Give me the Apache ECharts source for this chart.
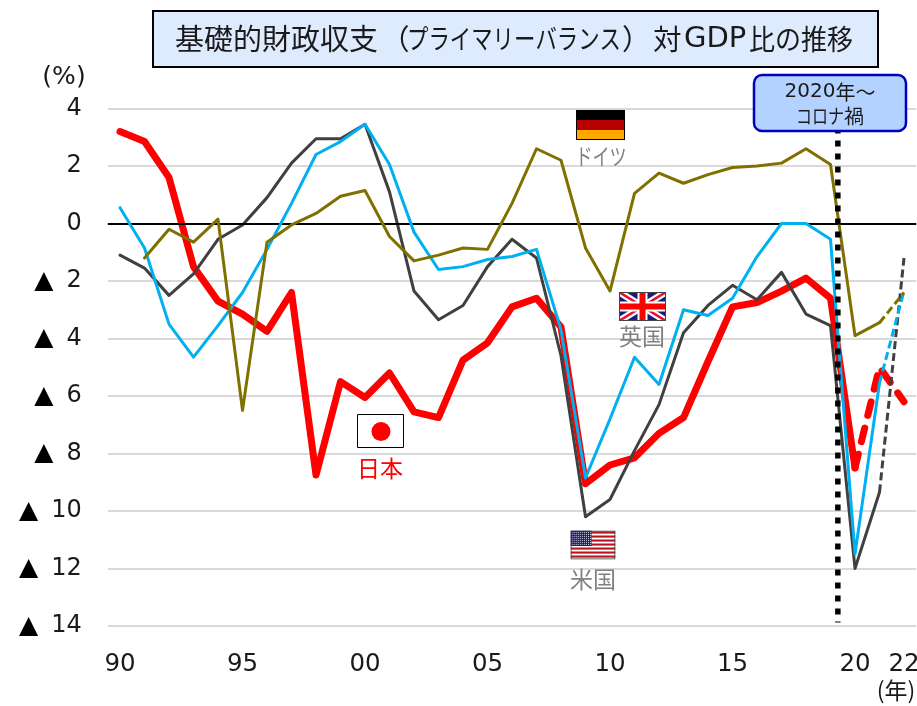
<!DOCTYPE html>
<html><head><meta charset="utf-8">
<style>html,body{margin:0;padding:0;background:#fff}#c{width:917px;height:706px}</style>
<script src="https://cdn.jsdelivr.net/npm/echarts@6/dist/echarts.min.js"></script>
</head><body><div id="c"></div>
<script>
const categories = ['90','91','92','93','94','95','96','97','98','99','00','01','02','03','04','05','06','07','08','09','10','11','12','13','14','15','16','17','18','19','20','21','22'];
const shownLabels = ['90','95','00','05','10','15','20','22'];
const yTicks = [4,2,0,-2,-4,-6,-8,-10,-12,-14];
const japanActual = [3.2,2.85,1.6,-1.5,-2.7,-3.15,-3.75,-2.4,-8.75,-5.5,-6.05,-5.2,-6.55,-6.75,-4.75,-4.15,-2.9,-2.6,-3.6,-9.05,-8.4,-8.15,-7.3,-6.75,-4.8,-2.9,-2.75,-2.35,-1.9,-2.6,-8.5];
const japanEstimate = [-8.5,-5.0,-6.2];
const usActual = [-1.1,-1.55,-2.5,-1.75,-0.55,-0.05,0.9,2.1,2.95,2.95,3.45,1.1,-2.35,-3.35,-2.85,-1.5,-0.55,-1.2,-4.6,-10.2,-9.6,-7.9,-6.3,-3.8,-2.85,-2.15,-2.65,-1.7,-3.15,-3.55,-12.0,-9.35];
const usEstimate = [-9.35,-1.2];
const ukActual = [0.55,-0.85,-3.5,-4.65,-3.55,-2.4,-0.9,0.7,2.4,2.85,3.45,2.05,-0.3,-1.6,-1.5,-1.25,-1.15,-0.9,-3.7,-8.85,-6.8,-4.65,-5.6,-3.0,-3.2,-2.6,-1.15,0,0,-0.55,-11.5,-5.55];
const ukEstimate = [-5.55,-2.35];
const deActual = [null,-1.2,-0.2,-0.65,0.15,-6.5,-0.65,-0.05,0.35,0.95,1.15,-0.45,-1.3,-1.1,-0.85,-0.9,0.7,2.6,2.2,-0.85,-2.35,1.05,1.75,1.4,1.7,1.95,2.0,2.1,2.6,2.05,-3.9,-3.45];
const deEstimate = [-3.45,-2.4];
const covidMarker = [[2019.3,3.34],[2019.3,-13.88]];

const JP='"Noto Sans CJK JP","DejaVu Sans",sans-serif';
const NUM='"DejaVu Sans",sans-serif';
const pad = (arr)=>Array(categories.length-arr.length).fill(null).concat(arr);
const tail = (arr)=>arr.concat(Array(categories.length-arr.length).fill(null));
const line = (name,data,color,width,dash,extra)=>Object.assign({
  type:'line',name,data,symbol:'none',connectNulls:false,silent:true,
  lineStyle:{color,width,type:dash||'solid',cap:dash?'butt':'round',join:'round'},
  animation:false},extra||{});
const svg = s=>'data:image/svg+xml;charset=utf-8,'+encodeURIComponent(s);
const txt = (text,x,y,font,fill,sx,align)=>({type:'text',z:21,x,y,scaleX:sx||1,style:{text,font,fill:fill||'#1a1a1a',textAlign:align||'left',textVerticalAlign:'middle'}});

const deFlag = svg('<svg xmlns="http://www.w3.org/2000/svg" width="49" height="30"><rect width="49" height="10" fill="#000"/><rect y="10" width="49" height="10" fill="#b80000"/><rect y="20" width="49" height="10" fill="#ffa800"/><rect x=".5" y=".5" width="48" height="29" fill="none" stroke="#000"/></svg>');
const ukFlag = svg('<svg xmlns="http://www.w3.org/2000/svg" width="47" height="29" viewBox="0 0 47 29"><rect width="47" height="29" fill="#1a1a7a"/><path d="M0 0L47 29M47 0L0 29" stroke="#fff" stroke-width="7"/><path d="M0 0L47 29M47 0L0 29" stroke="#e8102a" stroke-width="2.5"/><path d="M23.5 0V29M0 14.5H47" stroke="#fff" stroke-width="10"/><path d="M23.5 0V29M0 14.5H47" stroke="#f00" stroke-width="6"/><rect x=".5" y=".5" width="46" height="28" fill="none" stroke="#444"/></svg>');
let stripes=''; for(let i=0;i<7;i++){stripes+='<rect y="'+(1+i*4)+'" width="45" height="2.1" fill="#b81420"/>';}
let stars=''; for(let r=0;r<7;r++){for(let c=0;c<10;c++){stars+='<circle cx="'+(1.6+c*2.05)+'" cy="'+(1.8+r*2)+'" r=".55" fill="#fff"/>';}}
const usFlag = svg('<svg xmlns="http://www.w3.org/2000/svg" width="45" height="29" viewBox="0 0 45 29"><rect width="45" height="29" fill="#fff"/>'+stripes+'<rect width="21" height="15.5" fill="#1c1c6e"/>'+stars+'<rect x=".5" y=".5" width="44" height="28" fill="none" stroke="#333"/></svg>');

const chart = echarts.init(document.getElementById('c'),null,{renderer:'canvas'});
chart.setOption({
  animation:false,
  backgroundColor:'#fff',
  grid:{left:107.75,right:0.75,top:108.5,bottom:80,containLabel:false,outerBoundsMode:'none'},
  xAxis:[{
    type:'category',data:categories,boundaryGap:true,position:'bottom',
    axisLine:{show:false},axisTick:{show:false},splitLine:{show:false},
    axisLabel:{interval:(i,v)=>shownLabels.includes(v),margin:26,fontSize:24.5,color:'#1a1a1a',fontFamily:NUM,hideOverlap:false}
  },{
    type:'value',min:1989.5,max:2022.5,show:false
  }],
  yAxis:{
    type:'value',min:-14,max:4,interval:2,
    axisLine:{show:false},axisTick:{show:false},
    splitLine:{show:true,lineStyle:{color:'#d9d9d9',width:2}},
    axisLabel:{margin:26,fontSize:24,color:'#1a1a1a',fontFamily:NUM,
      formatter:v=>yTicks.includes(v)?(v<0?'{t|▲}{n|'+(-v)+'}':'{n|'+v+'}'):'',
      rich:{t:{fontSize:25,fontFamily:NUM,color:'#000',padding:[0,13,0,0]},n:{fontSize:24,fontFamily:NUM,color:'#1a1a1a'}}}
  },
  series:[
    line('日本',tail(japanActual),'#ff0000',7,null,{
      z:3,
      markLine:{silent:true,symbol:'none',animation:false,label:{show:false},
        lineStyle:{color:'#000',width:2,type:'solid'},data:[{yAxis:0}]}
    }),
    line('日本(見通し)',pad(japanEstimate),'#ff0000',7,[14,13],{z:3,lineStyle:{color:'#ff0000',width:7,type:[14,13],cap:'round'}}),
    line('米国',tail(usActual),'#404040',3,null,{z:4}),
    line('米国(見通し)',pad(usEstimate),'#404040',3,[8,4],{z:4}),
    line('英国',tail(ukActual),'#00b0f0',3,null,{z:5}),
    line('英国(見通し)',pad(ukEstimate),'#00b0f0',3,[8,4],{z:5}),
    line('ドイツ',tail(deActual),'#7f7000',3,null,{z:6}),
    line('ドイツ(見通し)',pad(deEstimate),'#7f7000',3,[8,4],{z:6}),
    {type:'line',name:'2020年~コロナ禍',xAxisIndex:1,data:covidMarker,symbol:'none',silent:true,z:7,
      lineStyle:{color:'#000',width:5.5,type:[6,7],cap:'butt'},animation:false}
  ],
  graphic:[
    {type:'rect',z:20,shape:{x:153,y:11,width:725,height:56},style:{fill:'#deebff',stroke:'#000',lineWidth:2}},
    txt('基礎的財政収支',175,39,'29px '+JP),
    txt('（',381,39,'28.5px '+JP),
    txt('プライマリーバランス',407,39,'27px '+JP,null,214/270),
    txt('）',622,39,'28.5px '+JP),
    txt('対',653,39,'28.5px '+JP),
    txt('GDP',684,39,'29px '+NUM),
    txt('比の推移',749,39,'28px '+JP,null,0.93),
    txt('(%)',64,77,'25px '+NUM,null,1,'center'),
    txt('(年)',896,690,'23px '+JP,null,1,'center'),
    {type:'rect',z:20,shape:{x:754,y:75,width:152,height:56,r:8},style:{fill:'#b4d2ff',stroke:'#0000c0',lineWidth:2.5}},
    {type:'text',z:21,x:830,y:92,style:{text:'{n|2020}{j|年～}',textAlign:'center',textVerticalAlign:'middle',
      rich:{n:{font:'20px '+NUM,fill:'#1a1a1a'},j:{font:'20px '+JP,fill:'#1a1a1a'}}}},
    txt('コロナ',796,116,'20px '+JP,null,0.8),
    txt('禍',844,116,'20px '+JP),
    {type:'image',z:20,style:{image:deFlag,x:576,y:110,width:49,height:30}},
    txt('ドイツ',575.5,156,'23px '+JP,'#808080',0.74),
    {type:'image',z:20,style:{image:ukFlag,x:619,y:292,width:47,height:29}},
    txt('英国',642,336,'23px '+JP,'#808080',1,'center'),
    {type:'rect',z:20,shape:{x:357.5,y:414.5,width:46,height:33},style:{fill:'#fff',stroke:'#000',lineWidth:1}},
    {type:'circle',z:21,shape:{cx:381,cy:431.5,r:9.5},style:{fill:'#ff0000'}},
    txt('日本',380,468,'23px '+JP,'#ff0000',1,'center'),
    {type:'image',z:20,style:{image:usFlag,x:570.5,y:530.5,width:45,height:29}},
    txt('米国',593,579,'23px '+JP,'#808080',1,'center')
  ]
});
</script></body></html>
